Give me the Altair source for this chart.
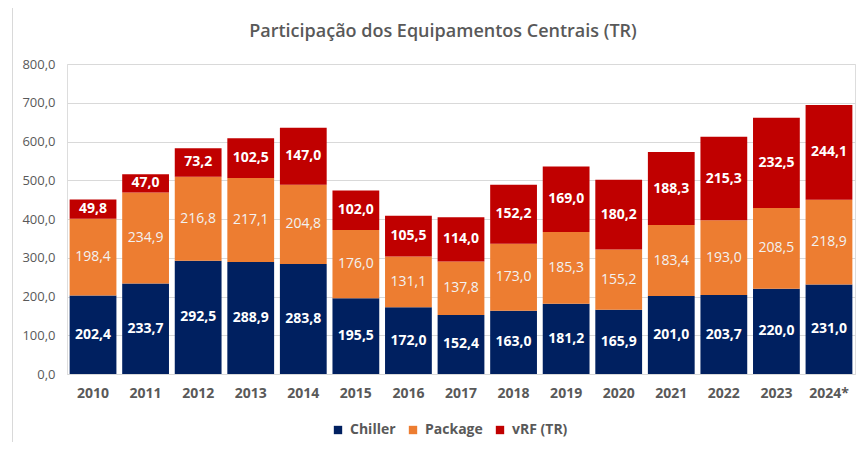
import altair as alt
import pandas as pd

years = ["2010", "2011", "2012", "2013", "2014", "2015", "2016", "2017",
         "2018", "2019", "2020", "2021", "2022", "2023", "2024*"]
chiller = [202.4, 233.7, 292.5, 288.9, 283.8, 195.5, 172.0, 152.4,
           163.0, 181.2, 165.9, 201.0, 203.7, 220.0, 231.0]
package = [198.4, 234.9, 216.8, 217.1, 204.8, 176.0, 131.1, 137.8,
           173.0, 185.3, 155.2, 183.4, 193.0, 208.5, 218.9]
vrf = [49.8, 47.0, 73.2, 102.5, 147.0, 102.0, 105.5, 114.0,
       152.2, 169.0, 180.2, 188.3, 215.3, 232.5, 244.1]
series = ["Chiller", "Package", "vRF (TR)"]
colors = ["#002060", "#ED7D31", "#C00000"]
title_text = "Participação dos Equipamentos Centrais (TR)"
y_ticks = [0, 100, 200, 300, 400, 500, 600, 700, 800]

rows = []
for i, y in enumerate(years):
    for k, (s, vals) in enumerate(zip(series, [chiller, package, vrf])):
        rows.append({"year": y, "series": s, "value": vals[i], "order": k})
df = pd.DataFrame(rows)

FONT = "Open Sans"
GRAY = "#595959"

base = alt.Chart(df).transform_stack(
    stack="value", groupby=["year"], as_=["lo", "hi"],
    sort=[alt.SortField("order", order="ascending")]
).transform_calculate(
    mid="(datum.lo + datum.hi) / 2",
    label="replace(format(datum.value, '.1f'), '.', ',')"
)

xscale = alt.Scale(domain=years, paddingInner=0.11, paddingOuter=0.05)
yscale = alt.Scale(domain=[0, 800], nice=False)

xaxis = alt.Axis(labelAngle=0, labelFont=FONT, labelFontSize=14,
                 labelFontWeight="bold", labelColor=GRAY, labelPadding=12,
                 ticks=False, domainColor="#D9D9D9", grid=False)

yaxis = alt.Axis(values=y_ticks,
                 labelExpr="replace(format(datum.value, '.1f'), '.', ',')",
                 labelFont=FONT, labelFontSize=13, labelColor=GRAY,
                 labelPadding=12, ticks=False, domain=False,
                 gridColor="#D9D9D9", gridWidth=1, labelOverlap=False)


def xenc():
    return alt.X("year:N", sort=years, title=None, scale=xscale, axis=xaxis)


bars = base.mark_bar().encode(
    x=xenc(),
    y=alt.Y("lo:Q", title=None, scale=yscale, axis=yaxis),
    y2="hi:Q",
    color=alt.Color("series:N", scale=alt.Scale(domain=series, range=colors),
                    legend=alt.Legend(title=None, orient="none", direction="horizontal",
                                      legendX=264, legendY=359, symbolType="square",
                                      symbolSize=70, symbolStrokeWidth=0,
                                      labelFont=FONT, labelFontSize=14,
                                      labelFontWeight="bold", labelColor=GRAY,
                                      columnPadding=10, labelOffset=5)),
    order=alt.Order("order:Q")
)

txt_bold = base.transform_filter("datum.series != 'Package'").mark_text(
    font=FONT, fontSize=14, fontWeight="bold", color="white", baseline="middle"
).encode(x=xenc(), y=alt.Y("mid:Q", title=None, scale=yscale, axis=yaxis),
         text="label:N")

txt_reg = base.transform_filter("datum.series == 'Package'").mark_text(
    font=FONT, fontSize=14, fontWeight="normal", color="#F2F2F2", baseline="middle"
).encode(x=xenc(), y=alt.Y("mid:Q", title=None, scale=yscale, axis=yaxis),
         text="label:N")

one = pd.DataFrame({"t": [title_text]})

frame = alt.Chart(one).mark_rect(
    fill=None, stroke="#D9D9D9", strokeWidth=1
).encode(x=alt.value(-54.5), x2=alt.value(900), y=alt.value(-56.5), y2=alt.value(500))

title = alt.Chart(one).mark_text(
    font=FONT, fontSize=18, fontWeight=600, color=GRAY,
    align="center", baseline="middle"
).encode(x=alt.value(376), y=alt.value(-32), text="t:N")

chart = alt.layer(frame, bars, txt_bold, txt_reg, title).properties(
    width=788, height=310,
    autosize=alt.AutoSizeParams(type="none"),
    padding={"left": 59, "top": 56, "right": 1, "bottom": 68}
).configure_view(stroke=None).configure(background="white")

chart.save("out.html", embed_options={"renderer": "svg", "actions": False})
